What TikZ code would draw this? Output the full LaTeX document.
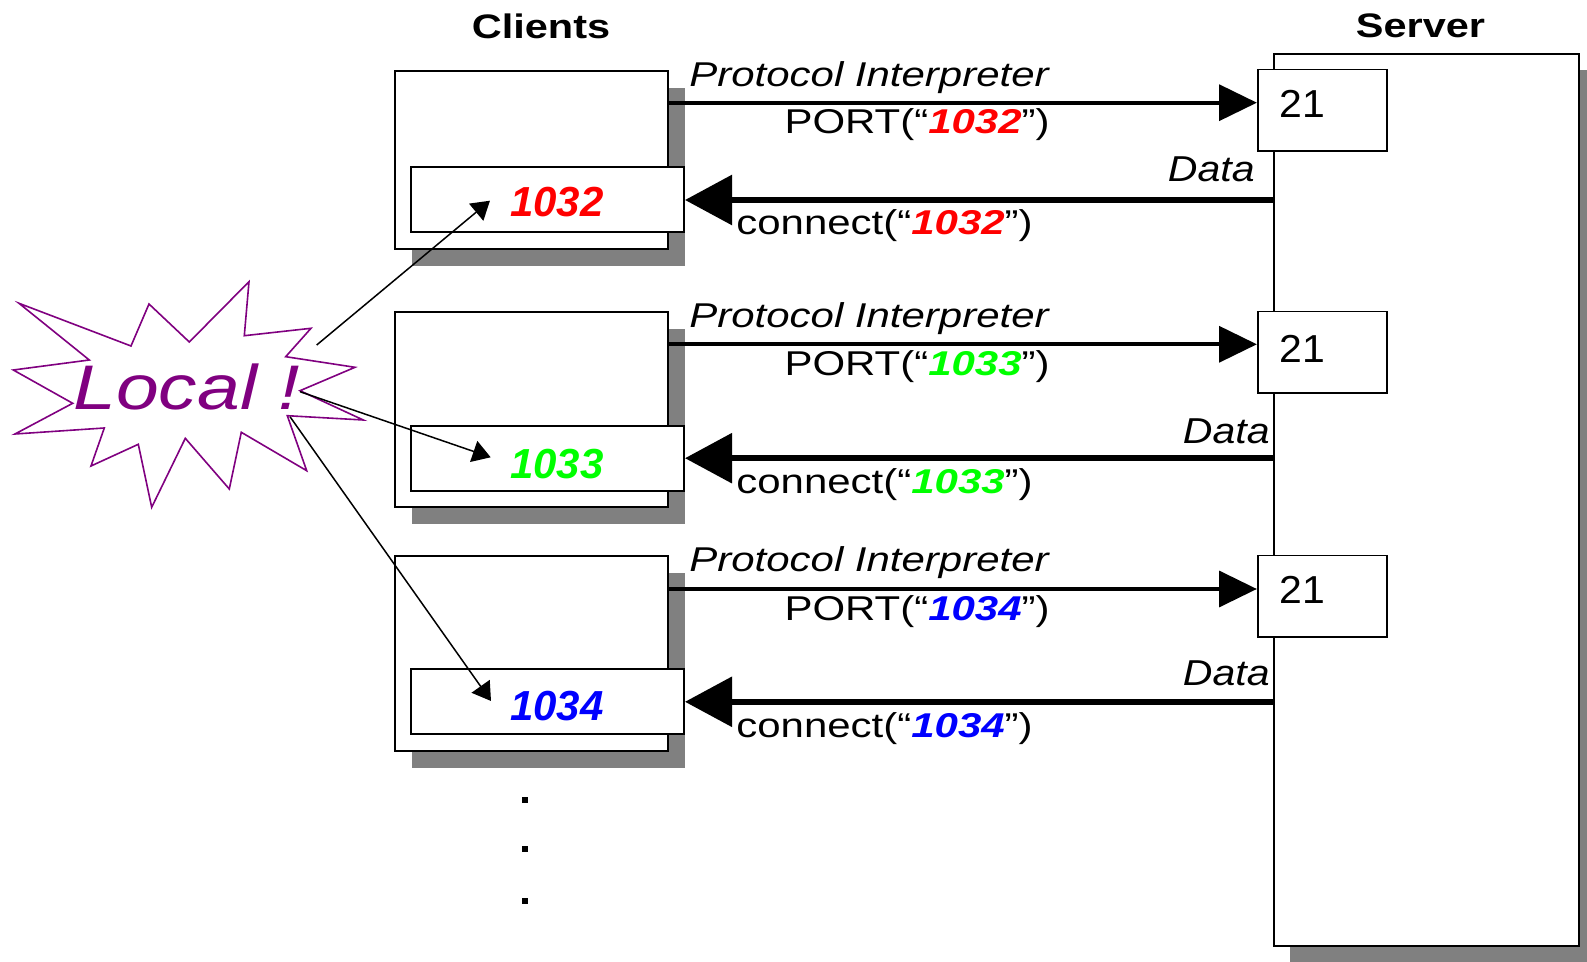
\documentclass[tikz,border=0pt]{standalone}
\usepackage{fontspec}
\setmainfont{Liberation Sans}[FakeStretch=1.22]
\newfontfamily\numfont{Liberation Sans}
\newfontfamily\srvfont{Liberation Sans}[FakeStretch=1.05]
\newfontfamily\datafont{Liberation Sans}[FakeStretch=1.14]
\usetikzlibrary{arrows.meta,shadows}
\definecolor{pred}{RGB}{255,0,0}
\definecolor{pgreen}{RGB}{0,255,0}
\definecolor{pblue}{RGB}{0,0,255}
\definecolor{ppurple}{RGB}{128,0,128}
\definecolor{shade}{RGB}{128,128,128}
\newcommand{\pnum}[2]{\textbf{\textit{\color{#1}#2}}}
\tikzset{
  clientbox/.style={draw=black, fill=white, line width=1pt, inner sep=0pt,
    minimum width=136.5pt,
    drop shadow={shadow xshift=8.5pt, shadow yshift=-8.5pt, fill=shade, opacity=1}},
  portbox/.style={draw=black, fill=white, line width=1pt, inner sep=0pt,
    minimum width=136.5pt, minimum height=32.5pt},
  serverbox/.style={draw=black, fill=white, line width=1pt, inner sep=0pt,
    minimum width=152.5pt, minimum height=446pt,
    drop shadow={shadow xshift=8pt, shadow yshift=-8pt, fill=shade, opacity=1}},
  srvport/.style={draw=black, fill=white, line width=0.8pt, inner sep=0pt,
    minimum width=64.5pt, minimum height=40.8pt},
  lbl/.style={inner sep=0pt, font=\fontsize{17.2pt}{20pt}\selectfont},
  datalbl/.style={inner sep=0pt, font=\datafont\fontsize{18pt}{21pt}\selectfont\itshape},
  portlbl/.style={inner sep=0pt, anchor=base west, font=\srvfont\fontsize{19.5pt}{22pt}\selectfont},
  title/.style={inner sep=0pt, anchor=base, font=\fontsize{17pt}{20pt}\selectfont\bfseries},
  numlbl/.style={inner sep=0pt, anchor=base, font=\numfont\fontsize{21pt}{24pt}\selectfont\bfseries\itshape},
  portarrow/.style={line width=2pt, -{Triangle[length=18.9pt, width=17.9pt]}},
  dataarrow/.style={line width=3pt, -{Triangle[length=23.5pt, width=24.5pt]}},
  localarrow/.style={line width=0.75pt, -{Triangle[length=9pt, width=11pt]}},
  starline/.style={draw=ppurple, fill=white, line width=0.8pt, line join=miter},
  locallbl/.style={inner sep=0pt, anchor=base west, text=ppurple,
    font=\fontsize{31.5pt}{36pt}\selectfont\itshape},
  dotmark/.style={fill=black, inner sep=0pt, minimum size=3pt}
}
\begin{document}
\begin{tikzpicture}[x=0.5pt, y=-0.5pt]
\useasboundingbox (0,0) rectangle (1587,962);
\fill[white] (0,0) rectangle (1587,962);

% titles
\node[title] (tclients) at (541,38.3) {Clients};
\node[title] (tserver) at (1420.5,38) {Server};

% server
\node[serverbox] (S) at (1426.5,500) {};
\node[srvport] (Q1) at (1322.2,110.5) {};
\node[srvport] (Q2) at (1322.2,352.5) {};
\node[srvport] (Q3) at (1322.2,596.5) {};
\node[portlbl] (q1) at (1279,118) {21};
\node[portlbl] (q2) at (1279,362.7) {21};
\node[portlbl] (q3) at (1279,604) {21};

% clients
\node[clientbox, minimum height=89.3pt] (C1) at (531.5,160) {};
\node[portbox] (P1) at (547.5,200) {};
\node[clientbox, minimum height=97.8pt] (C2) at (531.5,409.5) {};
\node[portbox] (P2) at (547.5,458.2) {};
\node[clientbox, minimum height=97.5pt] (C3) at (531.5,653.2) {};
\node[portbox] (P3) at (547.5,701.8) {};
\node[numlbl, text=pred] (n1) at (557,216.7) {1032};
\node[numlbl, text=pgreen] (n2) at (557,478.3) {1033};
\node[numlbl, text=pblue] (n3) at (557,721) {1034};

% PORT arrows
\coordinate (y1) at (0,102.7);
\coordinate (y2) at (0,344.3);
\coordinate (y3) at (0,589);
\draw[portarrow] (C1.east |- y1) -- (Q1.west |- y1);
\draw[portarrow] (C2.east |- y2) -- (Q2.west |- y2);
\draw[portarrow] (C3.east |- y3) -- (Q3.west |- y3);

% data arrows
\draw[dataarrow] (S.west |- P1.east) -- (P1.east);
\draw[dataarrow] (S.west |- P2.east) -- (P2.east);
\draw[dataarrow] (S.west |- P3.east) -- (P3.east);

% labels
\node[lbl, anchor=base west] (pi1) at (689,86.7) {\itshape Protocol Interpreter};
\node[lbl, anchor=base east] (po1) at (1050,134) {PORT(“\pnum{pred}{1032}”)};
\node[lbl, anchor=base west] (co1) at (736,235) {connect(“\pnum{pred}{1032}”)};
\node[datalbl, anchor=base east] (d1) at (1255,181.7) {Data};

\node[lbl, anchor=base west] (pi2) at (689,328) {\itshape Protocol Interpreter};
\node[lbl, anchor=base east] (po2) at (1050,376) {PORT(“\pnum{pgreen}{1033}”)};
\node[lbl, anchor=base west] (co2) at (736,493.3) {connect(“\pnum{pgreen}{1033}”)};
\node[datalbl, anchor=base east] (d2) at (1270,443.3) {Data};

\node[lbl, anchor=base west] (pi3) at (689,572) {\itshape Protocol Interpreter};
\node[lbl, anchor=base east] (po3) at (1050,620.5) {PORT(“\pnum{pblue}{1034}”)};
\node[lbl, anchor=base west] (co3) at (736,737.3) {connect(“\pnum{pblue}{1034}”)};
\node[datalbl, anchor=base east] (d3) at (1270,685.7) {Data};

% dots
\node[dotmark] (dot1) at (525.3,800) {};
\node[dotmark] (dot2) at (525.3,849.3) {};
\node[dotmark] (dot3) at (525.3,900.7) {};

% starburst
\draw[starline] (19,303.3) -- (131,346) -- (149,304) -- (189.3,342) -- (249,281.7)
  -- (244.3,335.7) -- (311,328.3) -- (285.7,356.7) -- (355,367.3) -- (300,390.7)
  -- (363.3,420) -- (287.3,415.7) -- (306.7,470.7) -- (241.3,432.3) -- (229.3,489)
  -- (185.3,438.3) -- (151.7,507.3) -- (138.3,444.3) -- (91,466) -- (104.3,428)
  -- (15,434) -- (72.7,403.3) -- (13.3,370) -- (89.3,360) -- cycle;
\node[locallbl] (local) at (73,409.3) {Local !};

% local arrows
\coordinate (a1s) at (316.7,345);
\coordinate (a1e) at (490,200.7);
\coordinate (a2s) at (300,391.7);
\coordinate (a2e) at (490.7,457.3);
\coordinate (a3s) at (290,416.7);
\coordinate (a3e) at (491,701);
\draw[localarrow] (a1s) -- (a1e);
\draw[localarrow] (a2s) -- (a2e);
\draw[localarrow] (a3s) -- (a3e);
\end{tikzpicture}
\end{document}
